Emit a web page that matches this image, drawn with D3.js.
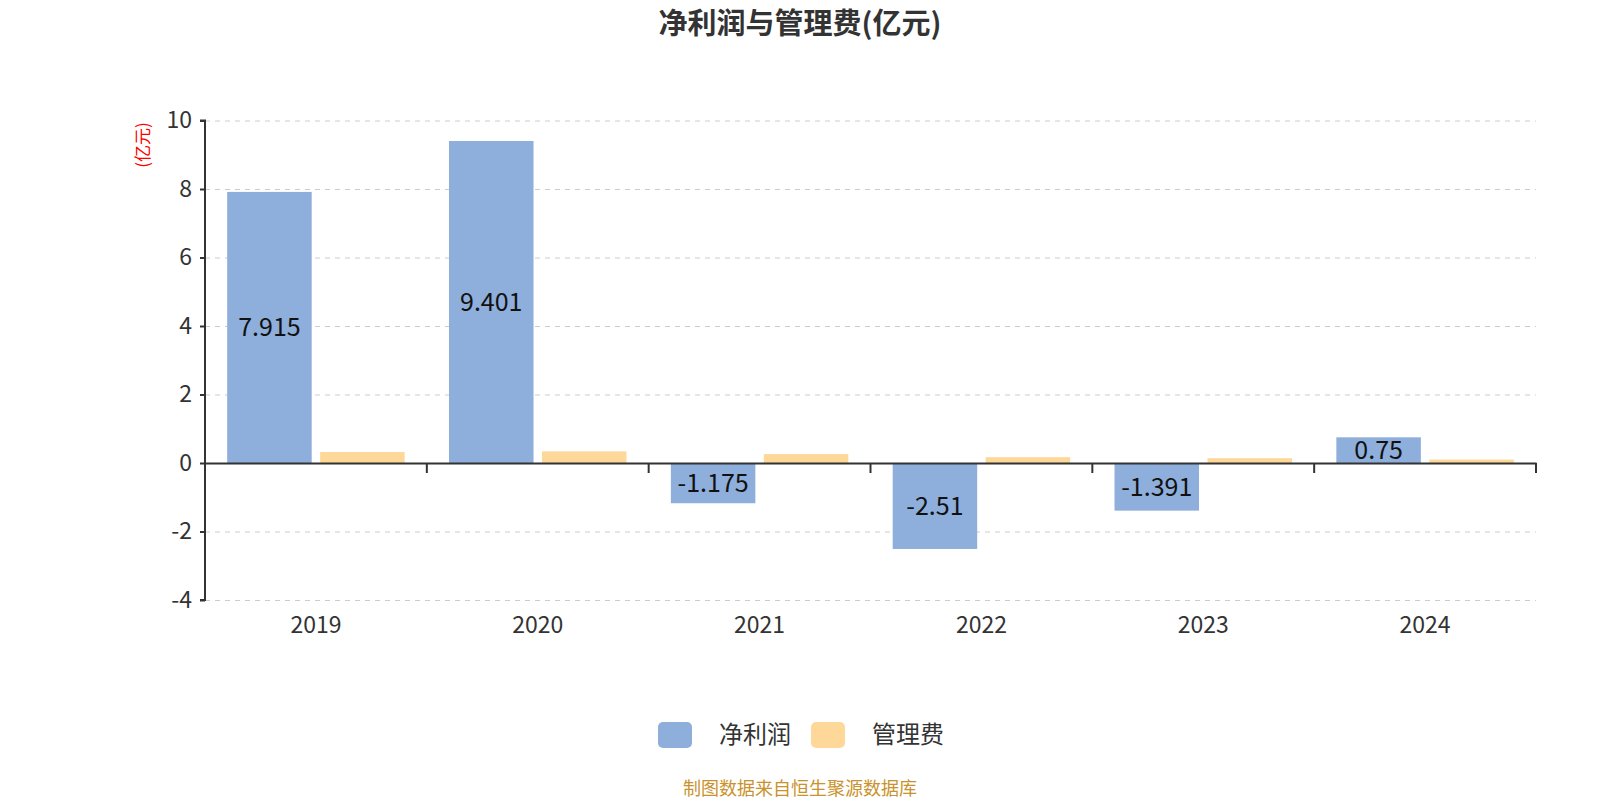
<!DOCTYPE html>
<html><head><meta charset="utf-8">
<script src="https://cdn.jsdelivr.net/npm/d3@7"></script>
<style>body{margin:0;background:#fff;} text{font-family:"Noto Sans CJK SC","Noto Sans",sans-serif;}</style>
</head><body><svg id="c" width="1600" height="800"></svg>
<script>
const categories = ["2019","2020","2021","2022","2023","2024"];
const netProfit = [7.915, 9.401, -1.175, -2.51, -1.391, 0.75];
const mgmtFee = [0.32, 0.34, 0.26, 0.17, 0.14, 0.10];
const yTicks = [-4,-2,0,2,4,6,8,10];
const seriesNames = ["净利润","管理费"];
const colors = ["#8eaedb","#fed898"];

(function(){
const svg = d3.select("#c");
const pL=205, pR=1536, pT=120.5, pB=600;
const x = d3.scaleBand().domain(categories).range([pL,pR]).paddingInner(0).paddingOuter(0);
const y = d3.scaleLinear().domain([-4,10]).range([pB,pT]);
const cw = x.bandwidth();
const barW = cw*0.8/2.1, gap = barW*0.1;

svg.append("text").attr("x",800).attr("y",34).attr("text-anchor","middle")
  .attr("font-size",29).attr("font-weight","bold").attr("fill","#333").text("净利润与管理费(亿元)");

svg.append("g").selectAll("line").data(yTicks.filter(d=>d!==0)).join("line")
  .attr("x1",pL).attr("x2",pR).attr("y1",d=>y(d)+0.5).attr("y2",d=>y(d)+0.5)
  .attr("stroke","#ccc").attr("stroke-dasharray","5,5");

const g = svg.append("g");
categories.forEach((c,i)=>{
  const x0 = x(c) + cw*0.1;
  const v = netProfit[i];
  g.append("rect").attr("x",x0).attr("width",barW)
    .attr("y",y(Math.max(0,v))).attr("height",Math.abs(y(v)-y(0))).attr("fill",colors[0]);
  const f = mgmtFee[i];
  g.append("rect").attr("x",x0+barW+gap).attr("width",barW)
    .attr("y",y(Math.max(0,f))).attr("height",Math.abs(y(f)-y(0))).attr("fill",colors[1]);
  g.append("text").attr("x",x0+barW/2).attr("y",(y(v)+y(0))/2).attr("dy","0.36em")
    .attr("text-anchor","middle").attr("font-size",25).attr("fill","#111").text(String(v));
});

const yAxis = d3.axisLeft(y).tickValues(yTicks).tickSize(5).tickPadding(8).tickFormat(d=>String(d));
const ya = svg.append("g").attr("transform",`translate(${pL},0)`).call(yAxis);
ya.select(".domain").attr("stroke","#333").attr("stroke-width",2).attr("d",`M-5,${pT}H0V${pB}H-5`);
ya.selectAll(".tick line").attr("stroke","#333").attr("stroke-width",2);
ya.selectAll(".tick text").attr("font-size",23).attr("fill","#333").style("font-family","'Noto Sans CJK SC',sans-serif");

const xAxis = d3.axisBottom(x).tickSize(0).tickFormat("");
const xa = svg.append("g").attr("transform",`translate(0,${y(0)})`).call(xAxis);
xa.select(".domain").attr("stroke","#333").attr("stroke-width",2);
const bounds = categories.map((c)=>x(c)).concat([pR]).slice(1);
xa.selectAll(".bt").data(bounds).join("line").attr("x1",d=>d).attr("x2",d=>d).attr("y1",0).attr("y2",10)
  .attr("stroke","#333").attr("stroke-width",2);
svg.append("g").selectAll("text").data(categories).join("text")
  .attr("x",d=>x(d)+cw/2).attr("y",633).attr("text-anchor","middle").attr("font-size",23).attr("fill","#333").text(d=>d);

svg.append("text").attr("transform","translate(143,145) rotate(-90)").attr("text-anchor","middle")
  .attr("dy","0.35em").attr("font-size",17).attr("fill","#f00").text("(亿元)");

const lg = svg.append("g");
const lx = [658, 811];
seriesNames.forEach((n,i)=>{
  lg.append("rect").attr("x",lx[i]).attr("y",722).attr("width",34).attr("height",26).attr("rx",5).attr("fill",colors[i]);
  lg.append("text").attr("x",lx[i]+61).attr("y",735).attr("dy","0.35em").attr("font-size",24).attr("fill","#333").text(n);
});

svg.append("text").attr("x",800).attr("y",789).attr("dy","0.35em").attr("text-anchor","middle")
  .attr("font-size",18).attr("fill","#c9922c").text("制图数据来自恒生聚源数据库");
})();
</script></body></html>
